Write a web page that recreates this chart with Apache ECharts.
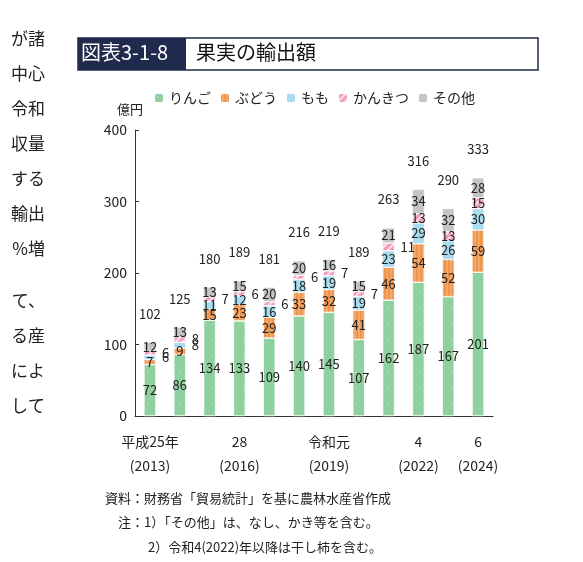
<!DOCTYPE html>
<html><head><meta charset="utf-8">
<script src="https://cdn.jsdelivr.net/npm/echarts@6/dist/echarts.min.js"></script>
<style>body{margin:0;background:#fff}#main{width:583px;height:562px}</style>
</head><body><div id="main"></div>
<script>
var years = ['2013','2014','2015','2016','2017','2018','2019','2020','2021','2022','2023','2024'];
var tickNames = {0:'平成25年\n(2013)',3:'28\n(2016)',6:'令和元\n(2019)',9:'4\n(2022)',11:'6\n(2024)'};
var ringo = [72,86,134,133,109,140,145,107,162,187,167,201];
var budou = [7,9,15,23,29,33,32,41,46,54,52,59];
var momo = [6,8,11,12,16,18,19,19,23,29,26,30];
var kankitsu = [6,8,7,6,6,6,7,7,11,13,13,15];
var sonota = [12,13,13,15,20,20,16,15,21,34,32,28];
var totals = [102,125,180,189,181,216,219,189,263,316,290,333];
var sideText = ['が諸','中心','令和','収量','する','輸出','%増','','て、','る産','によ','して'];

var myChart = echarts.init(document.getElementById('main'));
var font = '"Noto Sans CJK JP"';
var BW = 12;

function ser(name, data, color, decal, sideMax) {
	return {
		name: name, type: 'bar', stack: 'a', barWidth: BW,
		data: data.map(function (v) {
			return { value: v, label: v <= sideMax ? { position: 'right', distance: 6 } : { position: 'inside' } };
		}),
		itemStyle: { color: color, borderColor: '#fff', borderWidth: 0.5, decal: decal },
		label: { show: true, fontSize: 13, color: '#222', fontFamily: font, formatter: '{c}' }
	};
}

var series = [
	ser('りんご', ringo, '#8fd19e', { symbol: 'circle', symbolSize: 0.15, dashArrayX: 8, dashArrayY: 8, color: 'rgba(255,255,255,0.8)' }, -1),
	ser('ぶどう', budou, '#f5a865', { symbol: 'rect', dashArrayX: [[2, 2]], dashArrayY: [1, 0], color: 'rgba(230,130,60,0.5)' }, -1),
	ser('もも', momo, '#a9dcef', null, 9),
	ser('かんきつ', kankitsu, '#f59abb', { symbol: 'rect', dashArrayX: [1, 0], dashArrayY: [2, 3], rotation: -Math.PI / 4, color: 'rgba(255,255,255,0.7)' }, 11),
	ser('その他', sonota, '#c4c4c4', null, -1)
];
series.push({
	name: 'total', type: 'bar', stack: 'a', barWidth: BW, silent: true,
	data: totals.map(function () { return 0; }),
	itemStyle: { color: 'transparent' },
	label: { show: true, position: 'top', distance: 22, fontSize: 13, color: '#222', fontFamily: font,
		formatter: function (p) { return totals[p.dataIndex]; } }
});

var graphics = [
	{ type: 'rect', shape: { x: 78, y: 38, width: 460, height: 32 }, style: { fill: '#fff', stroke: '#1f2a4d', lineWidth: 1.5 } },
	{ type: 'rect', shape: { x: 78, y: 38, width: 108, height: 32 }, style: { fill: '#1f2a4d' } },
	{ type: 'text', left: 81, top: 42, style: { text: '図表3-1-8', fill: '#fff', font: '20px ' + font } },
	{ type: 'text', left: 196, top: 42, style: { text: '果実の輸出額', fill: '#111', font: '20px ' + font } },
	{ type: 'text', left: 117, top: 103, style: { text: '億円', fill: '#222', font: '13px ' + font } },
	{ type: 'text', left: 105, top: 492, style: { text: '資料：財務省「貿易統計」を基に農林水産省作成', fill: '#222', font: '13px ' + font } },
	{ type: 'text', left: 118, top: 516, style: { text: '注：1）「その他」は、なし、かき等を含む。', fill: '#222', font: '13px ' + font } },
	{ type: 'text', left: 148, top: 541, style: { text: '2）令和4(2022)年以降は干し柿を含む。', fill: '#222', font: '13px ' + font } }
];
sideText.forEach(function (t, i) {
	if (!t) return;
	graphics.push({ type: 'text', right: 538, top: 30 + i * 35 - (i > 7 ? 18 : 0), style: { text: t, fill: '#222', font: '17px ' + font } });
});

var option = {
	animation: false,
	backgroundColor: '#fff',
	legend: {
		data: ['りんご', 'ぶどう', 'もも', 'かんきつ', 'その他'],
		top: 86, left: 148, itemWidth: 10, itemHeight: 10, itemGap: 8,
		textStyle: { fontSize: 14, fontFamily: font, color: '#222' }
	},
	grid: { left: 135, right: 90, top: 130, bottom: 146 },
	xAxis: {
		type: 'category', data: years,
		axisLine: { lineStyle: { color: '#333' } }, axisTick: { show: false },
		axisLabel: { interval: 0, fontSize: 14, lineHeight: 24, margin: 14, color: '#222', fontFamily: font,
			formatter: function (v, i) { return tickNames[i] || ''; } }
	},
	yAxis: {
		type: 'value', min: 0, max: 400, interval: 100,
		splitLine: { show: false },
		axisLine: { show: true, lineStyle: { color: '#333' } },
		axisTick: { show: true, inside: true, length: 4 },
		axisLabel: { fontSize: 14, color: '#222', fontFamily: font }
	},
	graphic: graphics,
	series: series
};
myChart.setOption(option);
</script></body></html>
